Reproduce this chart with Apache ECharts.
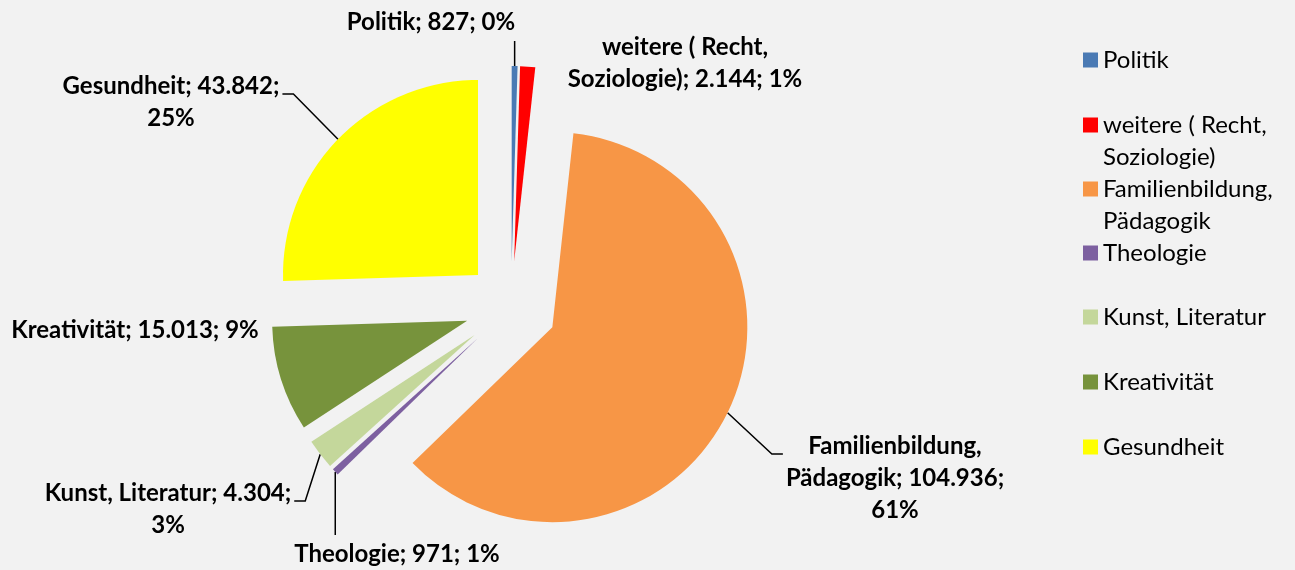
<!DOCTYPE html>
<html lang="de" style="height: 100%">
<head>
    <meta charset="utf-8">
    <title>Themenbereiche</title>
    <script src="https://cdn.jsdelivr.net/npm/echarts@6/dist/echarts.min.js"></script>
    <style>
        body { margin: 0; background: #f2f2f2; }
        #main { width: 1295px; height: 570px; }
    </style>
</head>
<body>
    <div id="main"></div>
    <script>
        // Daten
        var categories = ['Politik', 'weitere ( Recht, Soziologie)', 'Familienbildung, Pädagogik',
            'Theologie', 'Kunst, Literatur', 'Kreativität', 'Gesundheit'];
        var values = [827, 2144, 104936, 971, 4304, 15013, 43842];
        var colors = ['#4a7ab4', '#ff0000', '#f79646', '#7d60a0', '#c4d79b', '#77933c', '#ffff00'];

        // Layout: Umbruch im Namen / vor Prozent, Position der Beschriftung, Anschluss der Linie
        var breakName = [false, true, true, false, false, false, false];
        var breakPct = [false, false, true, false, true, false, true];
        var labelPos = [[431, 22], [685, 63], [895, 478], [397, 554], [168, 509], [135, 330], [171, 102]];
        var lineAttach = ['bottom', null, 'left', 'top', 'right', null, 'right'];
        var legendIconY = [60, 125, 189, 253, 317, 382, 447];

        var pieCenter = [511, 307];
        var pieRadius = 195;
        var explode = 46;
        var lineH = 32;

        var total = values.reduce(function (a, b) { return a + b; }, 0);

        function fmtNum(v) {
            return String(v).replace(/\B(?=(\d{3})+(?!\d))/g, '.');
        }
        function wrapName(i) {
            return breakName[i] ? categories[i].replace(', ', ',\n') : categories[i];
        }

        // Mittelwinkel jedes Segments (im Uhrzeigersinn ab 12 Uhr)
        var midAngles = [];
        var acc = 0;
        values.forEach(function (v) {
            midAngles.push((acc + v / 2) / total * Math.PI * 2);
            acc += v;
        });

        // jedes Segment als eigene Serie, um den Mittelpunkt herausgezogen
        var series = categories.map(function (name, s) {
            var a = midAngles[s];
            return {
                type: 'pie',
                center: [pieCenter[0] + explode * Math.sin(a), pieCenter[1] - explode * Math.cos(a)],
                radius: pieRadius,
                startAngle: 90,
                clockwise: true,
                silent: true,
                emphasis: { disabled: true },
                itemStyle: { borderWidth: 0 },
                label: {
                    position: 'outside',
                    fontFamily: 'Lato',
                    fontWeight: 'bold',
                    fontSize: 24,
                    lineHeight: lineH,
                    color: '#000',
                    align: 'center',
                    overflow: 'none',
                    formatter: function (p) {
                        var i = p.dataIndex;
                        var pct = Math.round(p.value / total * 100);
                        return wrapName(i) + '; ' + fmtNum(p.value) + ';' + (breakPct[i] ? '\n' : ' ') + pct + '%';
                    }
                },
                labelLine: {
                    length: 10,
                    length2: 10,
                    lineStyle: { color: '#000', width: 1.5 }
                },
                labelLayout: function (params) {
                    var i = params.dataIndex;
                    var p = labelPos[i];
                    var r = params.labelRect;
                    var res = { x: p[0], y: p[1], align: 'center', verticalAlign: 'middle' };
                    var pts = params.labelLinePoints;
                    if (pts && lineAttach[i]) {
                        var a0 = pts[0];
                        var left = p[0] - r.width / 2, right = p[0] + r.width / 2;
                        var top = p[1] - r.height / 2, bottom = p[1] + r.height / 2;
                        var baseY = top + lineH / 2 + 8;
                        var side = lineAttach[i];
                        if (side === 'bottom') res.labelLinePoints = [a0, [a0[0], bottom + 3]];
                        if (side === 'top') res.labelLinePoints = [a0, [a0[0], top - 3]];
                        if (side === 'right') res.labelLinePoints = [a0, [right + 14, baseY], [right + 3, baseY]];
                        if (side === 'left') res.labelLinePoints = [a0, [left - 14, baseY], [left - 3, baseY]];
                    }
                    return res;
                },
                data: categories.map(function (n, i) {
                    var item = {
                        name: n,
                        value: values[i],
                        itemStyle: { color: i === s ? colors[i] : 'rgba(0,0,0,0)' },
                        label: { show: i === s },
                        labelLine: { show: i === s && lineAttach[i] !== null }
                    };
                    // ohne Linie: feste Breite, damit nichts abgeschnitten wird
                    if (lineAttach[i] === null) item.label.width = 330;
                    return item;
                })
            };
        });

        // eine Legende pro Eintrag, damit die Abstände wie im Original sind
        var legends = categories.map(function (name, i) {
            var twoLines = breakName[i];
            return {
                data: [{ name: name, itemStyle: { color: colors[i] } }],
                orient: 'vertical',
                left: 1083,
                top: twoLines ? legendIconY[i] - lineH * 1.5 : legendIconY[i] - lineH / 2,
                padding: 0,
                itemWidth: 15,
                itemHeight: 15,
                icon: 'rect',
                selectedMode: false,
                formatter: function () { return (twoLines ? ' \n' : '') + wrapName(i); },
                textStyle: {
                    fontFamily: 'Lato',
                    fontSize: 24,
                    color: '#000',
                    lineHeight: lineH
                }
            };
        });

        var chart = echarts.init(document.getElementById('main'));
        chart.setOption({
            backgroundColor: '#f2f2f2',
            animation: false,
            legend: legends,
            series: series
        });
    </script>
</body>
</html>
